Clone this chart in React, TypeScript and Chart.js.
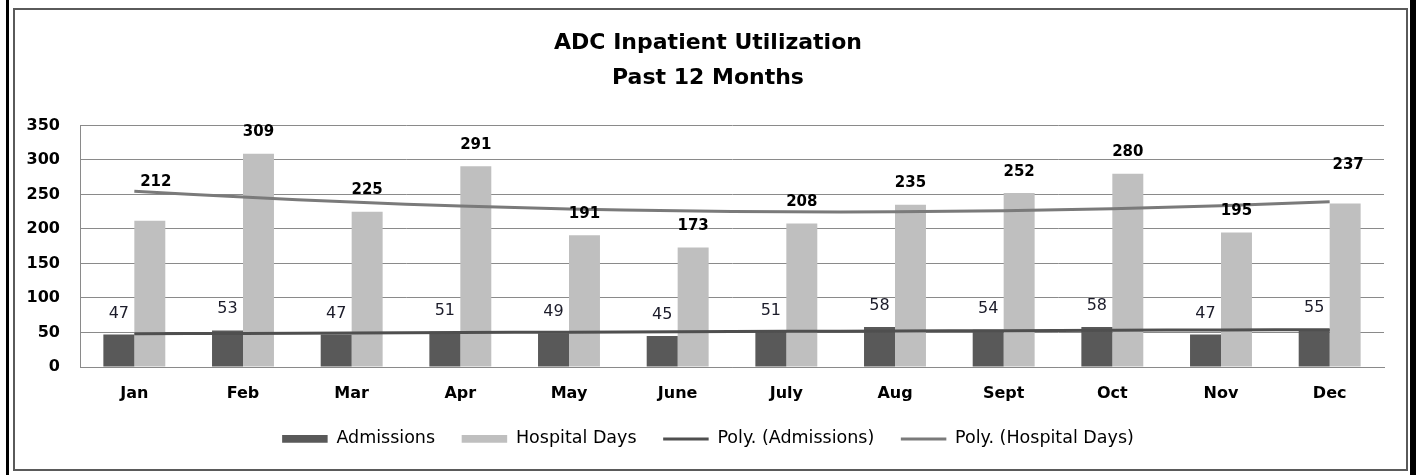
import React, { useEffect, useRef } from "react";
import { Chart, registerables } from "chart.js";

Chart.register(...registerables);

const months = ["Jan", "Feb", "Mar", "Apr", "May", "June", "July", "Aug", "Sept", "Oct", "Nov", "Dec"];
const admissions = [47, 53, 47, 51, 49, 45, 51, 58, 54, 58, 47, 55];
const hospitalDays = [212, 309, 225, 291, 191, 173, 208, 235, 252, 280, 195, 237];
const titleLines = ["ADC Inpatient Utilization", "Past 12 Months"];
const seriesNames = ["Admissions", "Hospital Days", "Poly. (Admissions)", "Poly. (Hospital Days)"];
const yMin = 0;
const yMax = 350;
const yStep = 50;

// label placement tweaks (style only)
const hospLabelLift = [17, 0, 0, 0, 0, 0, 0, 0, 0, 0, 0, 17];
const hospLabelDx = [6, 0, 0, 0, 0, 0, 0, 0, 0, 0, 0, 3];

const FONT = "'DejaVu Sans', sans-serif";

// Excel-style polynomial (order 2) trendline: least squares fit of the series
function polyTrend(values: number[], degree = 2): number[] {
  const n = degree + 1;
  const A: number[][] = Array.from({ length: n }, () => new Array(n + 1).fill(0));
  values.forEach((y, idx) => {
    const x = idx + 1;
    for (let r = 0; r < n; r++) {
      for (let c = 0; c < n; c++) A[r][c] += Math.pow(x, r + c);
      A[r][n] += y * Math.pow(x, r);
    }
  });
  for (let i = 0; i < n; i++) {
    let p = i;
    for (let k = i + 1; k < n; k++) if (Math.abs(A[k][i]) > Math.abs(A[p][i])) p = k;
    [A[i], A[p]] = [A[p], A[i]];
    for (let k = 0; k < n; k++) {
      if (k === i) continue;
      const f = A[k][i] / A[i][i];
      for (let c = i; c <= n; c++) A[k][c] -= f * A[i][c];
    }
  }
  const coef = A.map((row, i) => row[n] / row[i]);
  return values.map((_, idx) => {
    const x = idx + 1;
    return coef.reduce((s, c, i) => s + c * Math.pow(x, i), 0);
  });
}

const valueLabels = {
  id: "valueLabels",
  afterDatasetsDraw(chart: any) {
    const ctx = chart.ctx;
    ctx.save();
    ctx.textAlign = "center";
    ctx.textBaseline = "alphabetic";
    [0, 1].forEach((di) => {
      const meta = chart.getDatasetMeta(di);
      const data = chart.data.datasets[di].data as number[];
      meta.data.forEach((bar: any, i: number) => {
        const v = data[i];
        if (di === 0) {
          ctx.font = `normal 16px ${FONT}`;
          ctx.fillStyle = "#1c1c2a";
          ctx.fillText(String(v), bar.x, bar.y - 17);
        } else {
          ctx.font = `bold 15px ${FONT}`;
          ctx.fillStyle = "#000";
          ctx.fillText(String(v), bar.x + hospLabelDx[i], bar.y - 17.5 - hospLabelLift[i]);
        }
      });
    });
    ctx.restore();
  },
};

export default function App() {
  const ref = useRef<HTMLCanvasElement>(null);

  useEffect(() => {
    if (!ref.current) return;
    const admTrend = polyTrend(admissions);
    const hospTrend = polyTrend(hospitalDays);
    const chart = new Chart(ref.current, {
      type: "bar",
      data: {
        labels: months,
        datasets: [
          {
            type: "bar",
            label: seriesNames[0],
            data: admissions,
            backgroundColor: "#595959",
            borderWidth: 0,
            pointStyle: "rect",
            order: 1,
            categoryPercentage: 0.57,
            barPercentage: 1,
          } as any,
          {
            type: "bar",
            label: seriesNames[1],
            data: hospitalDays,
            backgroundColor: "#bfbfbf",
            borderWidth: 0,
            pointStyle: "rect",
            order: 1,
            categoryPercentage: 0.57,
            barPercentage: 1,
          } as any,
          {
            type: "line",
            label: seriesNames[2],
            data: admTrend,
            borderColor: "#4f4f4f",
            backgroundColor: "#4f4f4f",
            borderWidth: 3,
            pointRadius: 0,
            pointStyle: "line",
            tension: 0.4,
            fill: false,
            order: 0,
          } as any,
          {
            type: "line",
            label: seriesNames[3],
            data: hospTrend,
            borderColor: "#7a7a7a",
            backgroundColor: "#7a7a7a",
            borderWidth: 3,
            pointRadius: 0,
            pointStyle: "line",
            tension: 0.4,
            fill: false,
            order: 0,
          } as any,
        ],
      },
      options: {
        responsive: false,
        animation: false,
        layout: { padding: { left: 23, right: 23, top: 0, bottom: 17.3 } },
        plugins: {
          title: {
            display: true,
            text: titleLines,
            color: "#000",
            font: { family: FONT, size: 22, weight: "bold", lineHeight: 1.59 },
            padding: { top: 26, bottom: 29.5 },
          },
          legend: {
            position: "bottom",
            labels: {
              usePointStyle: true,
              pointStyleWidth: 45.5,
              boxHeight: 7.8,
              padding: 26.6,
              color: "#000",
              font: { family: FONT, size: 17.5 },
              sort: (a: any, b: any) => a.datasetIndex - b.datasetIndex,
            },
          },
          tooltip: { enabled: false },
        },
        scales: {
          x: {
            grid: { display: false, drawTicks: true, tickLength: 17.4 },
            border: { display: true, color: "#8a8a8a", width: 1 },
            ticks: { color: "#000", padding: 0, font: { family: FONT, size: 16, weight: "bold" } },
          },
          y: {
            min: yMin,
            max: yMax,
            ticks: {
              stepSize: yStep,
              color: "#000",
              padding: 20,
              font: { family: FONT, size: 16, weight: "bold" },
            },
            grid: { color: "#8a8a8a", lineWidth: 1, drawTicks: false },
            border: { display: true, color: "#8a8a8a", width: 1 },
            afterFit: (s: any) => {
              s.width = 57;
            },
          },
          yRightSpacer: {
            position: "right",
            display: true,
            grid: { display: false, drawTicks: false },
            border: { display: false },
            ticks: { display: false },
            afterFit: (s: any) => {
              s.width = 9;
            },
          },
        },
      } as any,
      plugins: [valueLabels],
    });
    return () => chart.destroy();
  }, []);

  return (
    <div
      style={{
        position: "fixed",
        left: 0,
        top: 0,
        width: 1416,
        height: 475,
        background: "#fff",
        overflow: "hidden",
      }}
    >
      <canvas ref={ref} width={1416} height={475} style={{ display: "block" }} />
      <div style={{ position: "absolute", left: 6, top: 0, width: 3, height: 475, background: "#000" }} />
      <div style={{ position: "absolute", left: 1410, top: 0, width: 6, height: 475, background: "#000" }} />
      <div
        style={{
          position: "absolute",
          left: 13,
          top: 8,
          width: 1395,
          height: 463,
          boxSizing: "border-box",
          border: "2px solid #5a5a5a",
          pointerEvents: "none",
        }}
      />
    </div>
  );
}
